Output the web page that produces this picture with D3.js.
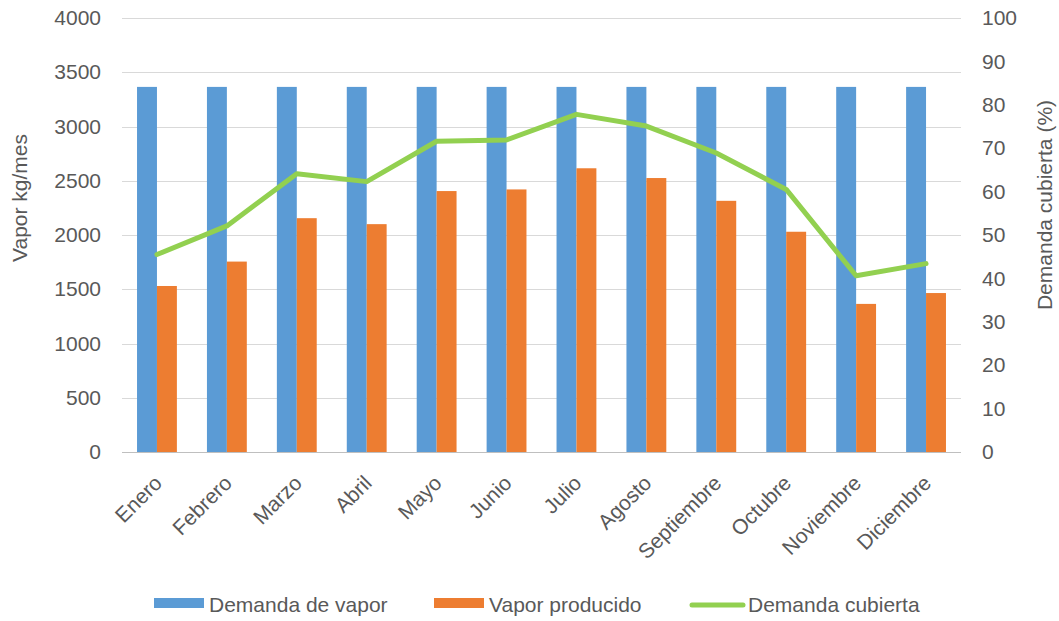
<!DOCTYPE html>
<html>
<head>
<meta charset="utf-8">
<script src="https://cdn.jsdelivr.net/npm/d3@7"></script>
<style>
  body { margin: 0; background: #fff; }
  text { font-family: "Liberation Sans", Arial, sans-serif; fill: #595959; }
</style>
</head>
<body>
<svg id="canvas" width="1059" height="621"></svg>
<script>
// data
const months = ["Enero", "Febrero", "Marzo", "Abril", "Mayo", "Junio", "Julio",
  "Agosto", "Septiembre", "Octubre", "Noviembre", "Diciembre"];
const demanda = [3365, 3365, 3365, 3365, 3365, 3365, 3365, 3365, 3365, 3365, 3365, 3365];
const producido = [1530, 1755, 2155, 2100, 2405, 2420, 2615, 2525, 2315, 2030, 1365, 1465];
const cubierta = [45.5, 52.1, 64.1, 62.3, 71.6, 71.9, 77.8, 75.1, 68.9, 60.5, 40.6, 43.4];
const leftTicks = [0, 500, 1000, 1500, 2000, 2500, 3000, 3500, 4000];
const rightTicks = [0, 10, 20, 30, 40, 50, 60, 70, 80, 90, 100];

const series = [
  { name: "Demanda de vapor", values: demanda, color: "#5B9BD5" },
  { name: "Vapor producido", values: producido, color: "#ED7D31" }
];

let svg = d3.select("#canvas");
const plotLeft = 122, plotRight = 961, plotTop = 18, plotBottom = 452;

let x = d3.scaleBand().domain(months).range([plotLeft, plotRight])
  .paddingInner(0.43).paddingOuter(0.215);
let xSub = d3.scaleBand().domain(series.map(s => s.name)).range([0, x.bandwidth()]);
let y = d3.scaleLinear().domain([0, 4000]).range([plotBottom, plotTop]);
let y2 = d3.scaleLinear().domain([0, 100]).range([plotBottom, plotTop]);

// gridlines
svg.append("g")
  .selectAll("line")
  .data(leftTicks)
  .enter()
  .append("line")
  .attr("x1", plotLeft).attr("x2", plotRight)
  .attr("y1", d => Math.round(y(d)) + 0.5).attr("y2", d => Math.round(y(d)) + 0.5)
  .attr("stroke", d => d === 0 ? "#bfbfbf" : "#d9d9d9")
  .attr("stroke-width", 1);

// left axis
let yAxis = d3.axisLeft(y).tickValues(leftTicks).tickFormat(d3.format("d"))
  .tickSize(0).tickPadding(0);
svg.append("g")
  .attr("transform", "translate(101,0)")
  .call(yAxis)
  .call(g => g.select(".domain").remove())
  .selectAll("text")
  .style("font-size", "21px")
  .attr("fill", "#595959");

// right axis
let y2Axis = d3.axisRight(y2).tickValues(rightTicks).tickFormat(d3.format("d"))
  .tickSize(0).tickPadding(0);
svg.append("g")
  .attr("transform", "translate(982,0)")
  .call(y2Axis)
  .call(g => g.select(".domain").remove())
  .selectAll("text")
  .style("font-size", "21px")
  .attr("fill", "#595959");

// bars
series.forEach(s => {
  svg.append("g")
    .selectAll("rect")
    .data(s.values)
    .enter()
    .append("rect")
    .attr("x", (d, i) => x(months[i]) + xSub(s.name))
    .attr("y", d => y(d))
    .attr("width", xSub.bandwidth())
    .attr("height", d => y(0) - y(d))
    .attr("fill", s.color);
});

// line
let line = d3.line()
  .x((d, i) => x(months[i]) + x.bandwidth() / 2)
  .y(d => y2(d));
svg.append("path")
  .datum(cubierta)
  .attr("d", line)
  .attr("fill", "none")
  .attr("stroke", "#92D050")
  .attr("stroke-width", 5)
  .attr("stroke-linejoin", "round")
  .attr("stroke-linecap", "round");

// month labels
svg.append("g")
  .selectAll("text")
  .data(months)
  .enter()
  .append("text")
  .attr("transform", d => "translate(" + (x(d) + x.bandwidth() / 2 - 4) + ",474) rotate(-45)")
  .attr("text-anchor", "end")
  .attr("dy", "0.7em")
  .style("font-size", "21px")
  .text(d => d);

// axis titles
svg.append("text")
  .attr("transform", "translate(27,198) rotate(-90)")
  .attr("text-anchor", "middle")
  .style("font-size", "21px")
  .text("Vapor kg/mes");
svg.append("text")
  .attr("transform", "translate(1052,205) rotate(-90)")
  .attr("text-anchor", "middle")
  .style("font-size", "21px")
  .text("Demanda cubierta (%)");

// legend
const legendItems = [
  { name: "Demanda de vapor", color: "#5B9BD5", kind: "rect", x: 154 },
  { name: "Vapor producido", color: "#ED7D31", kind: "rect", x: 434 },
  { name: "Demanda cubierta", color: "#92D050", kind: "line", x: 690 }
];
let legend = svg.append("g").attr("class", "legend");
legendItems.forEach(item => {
  if (item.kind === "rect") {
    legend.append("rect")
      .attr("x", item.x).attr("y", 598)
      .attr("width", 50).attr("height", 10)
      .attr("fill", item.color);
  } else {
    legend.append("line")
      .attr("x1", item.x + 2).attr("x2", item.x + 53)
      .attr("y1", 605).attr("y2", 605)
      .attr("stroke", item.color)
      .attr("stroke-width", 5)
      .attr("stroke-linecap", "round");
  }
  legend.append("text")
    .attr("x", item.x + (item.kind === "rect" ? 55 : 58))
    .attr("y", 612)
    .style("font-size", "21px")
    .text(item.name);
});
</script>
</body>
</html>
